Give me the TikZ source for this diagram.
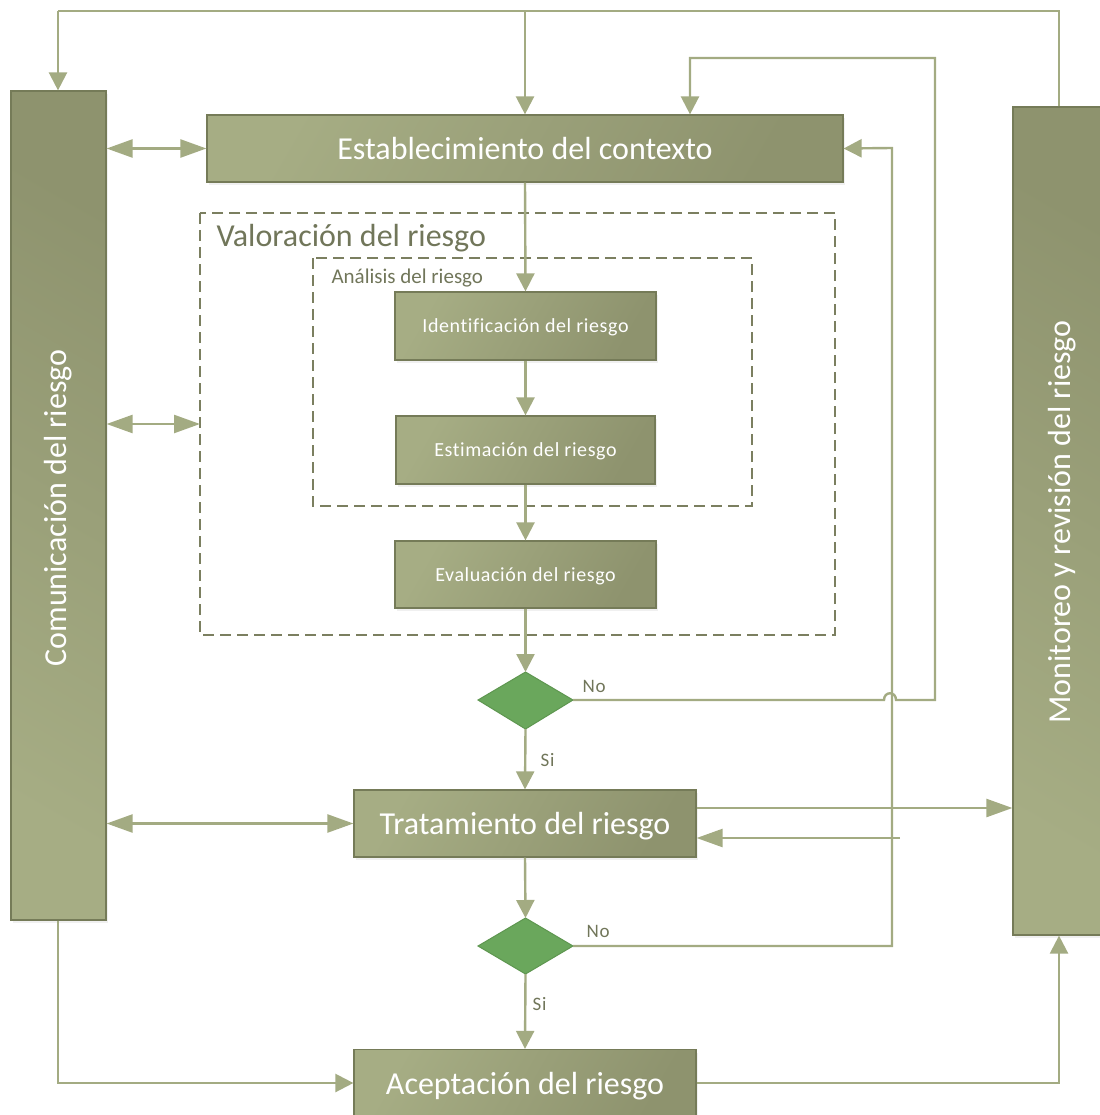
\documentclass[tikz,border=0pt]{standalone}
\usepackage{fontspec}
\setmainfont{Carlito}
\usetikzlibrary{arrows.meta,shadows}
\definecolor{linecol}{HTML}{A3AB82}
\definecolor{boxlight}{HTML}{A6AD84}
\definecolor{boxdark}{HTML}{8E936E}
\definecolor{boxedge}{HTML}{757B58}
\definecolor{dashcol}{HTML}{7B7F60}
\definecolor{labelcol}{HTML}{71765A}
\definecolor{decfill}{HTML}{6AA75C}
\definecolor{decedge}{HTML}{5E9650}
\tikzset{
  tipS/.tip={Triangle[length=18pt,width=18pt]},
  tipL/.tip={Triangle[length=26pt,width=18pt]},
  conn/.style={draw=linecol,line width=2.4pt},
  boxbase/.style={draw=boxedge,line width=1.2pt,text=white,inner sep=0pt,
    drop shadow={opacity=0.12,shadow xshift=2pt,shadow yshift=-3pt}},
  procbox/.style={boxbase,left color=boxlight,right color=boxdark,shading angle=60,text depth=0pt},
  bigbox/.style={procbox,font=\fontsize{32}{36}\selectfont},
  smallbox/.style={procbox,font=\fontsize{20}{24}\selectfont\addfontfeature{LetterSpace=3,Ligatures=NoCommon}},
  sidebox/.style={boxbase,top color=boxdark,bottom color=boxlight,shading angle=-30},
  sidetext/.style={rotate=90,text=white,font=\fontsize{32}{36}\selectfont},
  decision/.style={draw=decedge,fill=decfill,line width=1pt},
  dashbox/.style={draw=dashcol,line width=1.5pt,dash pattern=on 11pt off 6pt},
  branch/.style={text=labelcol,font=\fontsize{19}{22}\selectfont\addfontfeature{LetterSpace=4}},
}
\begin{document}
\begin{tikzpicture}[x=1pt,y=-1pt]
\useasboundingbox (0,0) rectangle (1099,1115);

% side panels
\node[sidebox,minimum width=95pt,minimum height=829pt] (com) at (58.5,505.5) {};
\node[sidetext] (comtxt) at (58.5,508) {Comunicación del riesgo};
\node[sidebox,minimum width=95pt,minimum height=828pt] (mon) at (1060.5,521) {};
\node[sidetext] (montxt) at (1062,522) {Monitoreo y revisión del riesgo};

% assessment frames
\draw[dashbox] (200,213) rectangle (835,635);
\node[anchor=west,text=labelcol,font=\fontsize{32}{36}\selectfont] (valtxt) at (213,238) {Valoración del riesgo};
\coordinate (valwest) at (200,424);
\draw[dashbox] (313,258) rectangle (752,506);
\node[anchor=west,text=labelcol,font=\fontsize{21}{24}\selectfont] (anatxt) at (328,278) {Análisis del riesgo};

% process boxes
\node[bigbox,minimum width=636pt,minimum height=67pt] (est) at (525,148.5) {Establecimiento del contexto};
\node[smallbox,minimum width=261pt,minimum height=68pt] (ide) at (525.5,326) {Identificación del riesgo};
\node[smallbox,minimum width=259pt,minimum height=68pt] (esti) at (525.5,450) {Estimación del riesgo};
\node[smallbox,minimum width=261pt,minimum height=67pt] (eva) at (525.5,574.5) {Evaluación del riesgo};
\node[bigbox,minimum width=342pt,minimum height=67pt] (tra) at (525,823.5) {Tratamiento del riesgo};
\node[bigbox,minimum width=342pt,minimum height=67pt] (ace) at (525,1083) {Aceptación del riesgo};

% decisions
\draw[decision] (478,700) -- (525.5,672) -- (573,700) -- (525.5,729) -- cycle;
\coordinate (d1n) at (525.5,672); \coordinate (d1s) at (525.5,729); \coordinate (d1e) at (573,700);
\draw[decision] (478,946) -- (525.5,918) -- (573,946) -- (525.5,974) -- cycle;
\coordinate (d2n) at (525.5,918); \coordinate (d2s) at (525.5,974); \coordinate (d2e) at (573,946);

% main flow
\draw[conn,-tipS] (est.south) -- (ide.north);
\draw[conn,-tipS] (ide.south) -- (esti.north);
\draw[conn,-tipS] (esti.south) -- (eva.north);
\draw[conn,-tipS] (eva.south) -- (d1n);
\draw[conn,-tipS] (d1s) -- (tra.north);
\draw[conn,-tipS] (tra.south) -- (d2n);
\draw[conn,-tipS] (d2s) -- (ace.north);
\node[branch,anchor=west] (si1) at (537,760) {Si};
\node[branch,anchor=west] (no1) at (579,686) {No};
\node[branch,anchor=west] (si2) at (529,1004) {Si};
\node[branch,anchor=west] (no2) at (583,931) {No};

% feedback loops
\coordinate (topL) at (58,11);
\coordinate (topR) at (1059,11);
\draw[conn] (mon.north -| topR) -- (topR) -- (topL);
\draw[conn,-tipS] (topL) -- (com.north -| topL);
\draw[conn,-tipS] (525,11) -- (est.north);

\coordinate (loopA) at (935,58);
\draw[conn,-tipS] (d2e) -- (892,946) -- (892,148) -- (est.east);
\draw[conn,-tipS] (d1e) -- (884,700) .. controls (884,691) and (896,691) .. (896,700)
  -- (935,700) -- (loopA) -- (690,58) -- (est.north -| 690,0);

% communication links
\draw[conn,tipL-tipL] (com.east |- est.west) -- (est.west);
\draw[conn,tipL-tipL] (com.east |- valwest) -- (valwest);
\draw[conn,tipL-tipL] (com.east |- tra.west) -- (tra.west);

% monitoring links
\draw[conn,-tipL] (tra.east |- 0,808) -- (mon.west |- 0,808);
\coordinate (retR) at (900,838);
\draw[conn,-tipL] (retR) -- (tra.east |- retR);
\draw[conn,-tipS] (com.south -| 58,0) -- (58,1083) -- (ace.west);
\draw[conn,-tipS] (ace.east) -- (1059,1083) -- (mon.south -| 1059,0);
\end{tikzpicture}
\end{document}
